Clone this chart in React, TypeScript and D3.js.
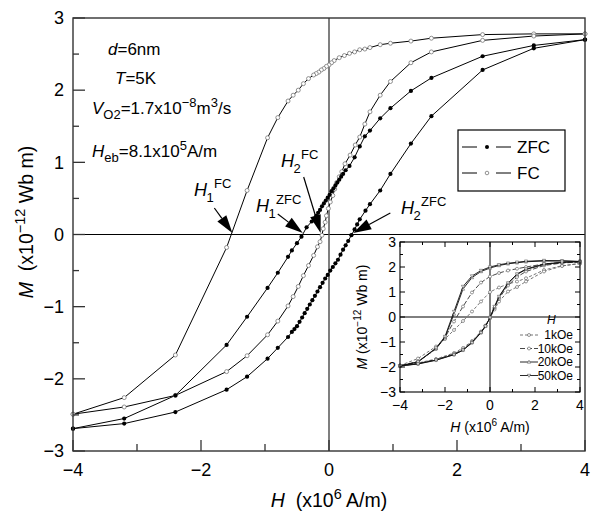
import React from "react";
import * as d3 from "d3";

// ---------- Main hysteresis loops (H in 10^6 A/m, M in 10^-12 Wb m) ----------
// ZFC, field sweeping down (+4 -> -4)
const zfcDescH = [4.0, 3.2, 2.4, 1.6, 1.28, 0.96, 0.8, 0.64, 0.56, 0.48, 0.4, 0.32, 0.26, 0.22, 0.19, 0.16, 0.13, 0.1, 0.07, 0.04, 0.01, -0.02, -0.05, -0.08, -0.11, -0.14, -0.17, -0.2, -0.22, -0.27, -0.35, -0.43, -0.5, -0.58, -0.64, -0.8, -0.96, -1.28, -1.6, -2.4, -3.2, -4.0];
const zfcDescM = [2.7, 2.62, 2.47, 2.17, 1.99, 1.75, 1.61, 1.44, 1.36, 1.22, 1.07, 0.95, 0.89, 0.84, 0.8, 0.76, 0.72, 0.68, 0.64, 0.6, 0.55, 0.51, 0.47, 0.43, 0.39, 0.34, 0.3, 0.26, 0.22, 0.18, 0.1, -0.03, -0.12, -0.22, -0.31, -0.53, -0.74, -1.14, -1.53, -2.23, -2.55, -2.69];
// ZFC, field sweeping up (-4 -> +4)
const zfcAscH = [-4.0, -3.2, -2.4, -1.6, -1.28, -0.96, -0.8, -0.64, -0.58, -0.54, -0.5, -0.46, -0.42, -0.38, -0.34, -0.3, -0.26, -0.22, -0.18, -0.14, -0.1, -0.06, -0.02, 0.02, 0.06, 0.1, 0.14, 0.18, 0.22, 0.26, 0.3, 0.35, 0.4, 0.44, 0.48, 0.57, 0.64, 0.8, 0.96, 1.28, 1.6, 2.4, 3.2, 4.0];
const zfcAscM = [-2.69, -2.62, -2.46, -2.15, -1.97, -1.72, -1.57, -1.42, -1.35, -1.31, -1.27, -1.21, -1.15, -1.09, -1.03, -0.97, -0.91, -0.85, -0.79, -0.73, -0.67, -0.61, -0.56, -0.5, -0.45, -0.4, -0.35, -0.28, -0.21, -0.15, -0.09, -0.01, 0.07, 0.14, 0.21, 0.33, 0.42, 0.61, 0.84, 1.26, 1.64, 2.28, 2.58, 2.7];
// FC, field sweeping down
const fcDescH = [4.0, 3.2, 2.4, 1.6, 1.28, 0.96, 0.8, 0.64, 0.56, 0.48, 0.4, 0.32, 0.24, 0.16, 0.08, 0.04, 0.0, -0.04, -0.08, -0.12, -0.16, -0.2, -0.24, -0.32, -0.4, -0.48, -0.56, -0.64, -0.8, -0.96, -1.28, -1.6, -2.4, -3.2, -4.0];
const fcDescM = [2.78, 2.78, 2.77, 2.72, 2.68, 2.65, 2.63, 2.59, 2.57, 2.56, 2.53, 2.51, 2.48, 2.45, 2.41, 2.38, 2.35, 2.33, 2.3, 2.28, 2.25, 2.23, 2.21, 2.16, 2.09, 2.0, 1.93, 1.85, 1.62, 1.34, 0.61, -0.18, -1.67, -2.26, -2.49];
// FC, field sweeping up
const fcAscH = [-4.0, -3.2, -2.4, -1.6, -1.28, -0.96, -0.8, -0.64, -0.56, -0.48, -0.4, -0.32, -0.24, -0.18, -0.14, -0.11, -0.09, -0.06, -0.04, -0.01, 0.02, 0.06, 0.09, 0.12, 0.16, 0.2, 0.25, 0.33, 0.41, 0.48, 0.56, 0.64, 0.8, 0.96, 1.28, 1.6, 2.4, 3.2, 4.0];
const fcAscM = [-2.49, -2.39, -2.23, -1.9, -1.68, -1.39, -1.2, -0.99, -0.86, -0.72, -0.57, -0.43, -0.29, -0.17, -0.1, -0.01, 0.08, 0.17, 0.26, 0.36, 0.45, 0.54, 0.63, 0.72, 0.8, 0.87, 0.98, 1.1, 1.24, 1.35, 1.53, 1.7, 1.93, 2.12, 2.38, 2.53, 2.69, 2.75, 2.78];

// Coercive fields marked by arrows
const crossLabels = ["1", "1", "2", "2"];
const crossTags = ["FC", "ZFC", "FC", "ZFC"];
const crossH = [-1.51, -0.41, -0.13, 0.38];

// ---------- Inset: loops for different cooling fields ----------
const insetFields = ["1kOe", "10kOe", "20kOe", "50kOe"];
const insetDescH = [4.0, 3.2, 2.4, 1.6, 1.2, 0.8, 0.4, 0.0, -0.4, -0.8, -1.2, -1.6, -2.0, -2.4, -3.2, -4.0];
const inset1kDesc = [2.14, 2.05, 1.88, 1.55, 1.42, 1.32, 1.18, 1.0, 0.62, 0.22, -0.16, -0.52, -0.88, -1.18, -1.66, -1.94];
const inset10kDesc = [2.2, 2.18, 2.12, 2.0, 1.93, 1.86, 1.76, 1.62, 1.38, 0.98, 0.42, -0.18, -0.82, -1.28, -1.78, -1.95];
const inset20kDesc = [2.22, 2.24, 2.24, 2.21, 2.17, 2.13, 2.06, 1.96, 1.82, 1.58, 1.12, 0.12, -0.82, -1.26, -1.8, -1.96];
const inset50kDesc = [2.22, 2.25, 2.26, 2.23, 2.19, 2.15, 2.09, 2.0, 1.86, 1.64, 1.22, 0.22, -0.78, -1.24, -1.79, -1.96];
const insetAscH = [-4.0, -3.2, -2.4, -1.6, -1.2, -0.8, -0.4, -0.2, 0.0, 0.2, 0.4, 0.8, 1.2, 1.6, 2.4, 3.2, 4.0];
const inset1kAsc = [-1.94, -1.84, -1.68, -1.44, -1.24, -0.96, -0.58, -0.34, -0.04, 0.3, 0.62, 1.02, 1.2, 1.42, 1.82, 2.04, 2.14];
const inset10kAsc = [-1.95, -1.86, -1.7, -1.48, -1.3, -1.0, -0.6, -0.36, -0.04, 0.36, 0.74, 1.26, 1.6, 1.82, 2.06, 2.16, 2.2];
const inset20kAsc = [-1.96, -1.87, -1.72, -1.5, -1.32, -1.02, -0.62, -0.36, -0.03, 0.4, 0.8, 1.34, 1.7, 1.9, 2.1, 2.18, 2.22];
const inset50kAsc = [-1.96, -1.88, -1.73, -1.51, -1.33, -1.03, -0.63, -0.37, -0.02, 0.42, 0.82, 1.36, 1.72, 1.92, 2.12, 2.19, 2.22];

// Axis ticks
const mainXTicks = [-4, -3, -2, -1, 0, 1, 2, 3, 4];
const mainYTicks = [-3, -2.5, -2, -1.5, -1, -0.5, 0, 0.5, 1, 1.5, 2, 2.5, 3];
const insetXTicks = [-4, -3, -2, -1, 0, 1, 2, 3, 4];
const insetYTicks = [-3, -2.5, -2, -1.5, -1, -0.5, 0, 0.5, 1, 1.5, 2, 2.5, 3];

const FONT = "'Liberation Sans', Arial, Helvetica, sans-serif";
const fmt = (v: number) => (v < 0 ? "\u2212" + Math.abs(v) : String(v));

type Pt = [number, number];
const zip = (h: number[], m: number[]): Pt[] => h.map((v, i) => [v, m[i]]);

export default function App() {
  const W = 594;
  const H = 518;

  const x = d3.scaleLinear().domain([-4, 4]).range([73, 585]);
  const y = d3.scaleLinear().domain([-3, 3]).range([451, 18]);
  const xi = d3.scaleLinear().domain([-4, 4]).range([400, 580]);
  const yi = d3.scaleLinear().domain([-3, 3]).range([392, 242]);

  const line = d3.line<Pt>().x((d) => x(d[0])).y((d) => y(d[1]));
  const lineI = d3.line<Pt>().x((d) => xi(d[0])).y((d) => yi(d[1]));

  const zfc = [zip(zfcDescH, zfcDescM), zip(zfcAscH, zfcAscM)];
  const fc = [zip(fcDescH, fcDescM), zip(fcAscH, fcAscM)];

  const insetDesc = [inset1kDesc, inset10kDesc, inset20kDesc, inset50kDesc];
  const insetAsc = [inset1kAsc, inset10kAsc, inset20kAsc, inset50kAsc];
  const insetDash = ["3,2", "5,2", "none", "none"];
  const insetColor = ["#666", "#333", "#111", "#111"];
  const insetMarker = ["circle", "circle", "up", "down"];

  const marker = (kind: string, cx: number, cy: number, key: string, s = 1.6) => {
    if (kind === "circle")
      return <circle key={key} cx={cx} cy={cy} r={s} fill="white" stroke="#555" strokeWidth={0.6} />;
    const t = kind === "up" ? 1 : -1;
    const p = `${cx},${cy - t * s * 1.2} ${cx - s * 1.1},${cy + t * s * 0.8} ${cx + s * 1.1},${cy + t * s * 0.8}`;
    return <polygon key={key} points={p} fill="white" stroke="#555" strokeWidth={0.6} />;
  };

  // Arrow annotations: tail offsets (px) relative to the tip
  const arrowTail: Pt[] = [[-18, -25], [-25, -19], [-17, -56], [37, -20]];
  const labelPos: Pt[] = [[194, 196], [256, 212], [281, 167], [401, 214]];

  const arrow = (tipX: number, tipY: number, dx: number, dy: number, key: string) => {
    const len = Math.hypot(dx, dy);
    const ux = dx / len, uy = dy / len;
    const head = 18, hw = 5.5;
    const bx = tipX + ux * head, by = tipY + uy * head;
    const px = -uy, py = ux;
    return (
      <g key={key}>
        <line x1={tipX + dx} y1={tipY + dy} x2={bx} y2={by} stroke="black" strokeWidth={1.2} />
        <polygon
          points={`${tipX},${tipY} ${bx + px * hw},${by + py * hw} ${bx - px * hw},${by - py * hw}`}
          fill="black"
        />
      </g>
    );
  };

  return (
    <svg width={W} height={H} style={{ position: "absolute", left: 0, top: 0, background: "white" }} fontFamily={FONT}>
      <rect x={0} y={0} width={W} height={H} fill="white" />

      {/* zero lines */}
      <line x1={x(-4)} x2={x(4)} y1={y(0)} y2={y(0)} stroke="black" strokeWidth={1} />
      <line x1={x(0)} x2={x(0)} y1={y(3)} y2={y(-3)} stroke="#555" strokeWidth={1.5} />

      {/* curves */}
      {zfc.map((d, i) => (
        <path key={"zl" + i} d={line(d) || ""} fill="none" stroke="black" strokeWidth={1} />
      ))}
      {fc.map((d, i) => (
        <path key={"fl" + i} d={line(d) || ""} fill="none" stroke="black" strokeWidth={1} />
      ))}
      {fc.map((d, i) =>
        d.map((p, j) => (
          <circle key={`fm${i}-${j}`} cx={x(p[0])} cy={y(p[1])} r={2} fill="white" stroke="#777" strokeWidth={0.8} />
        ))
      )}
      {zfc.map((d, i) =>
        d.map((p, j) => <circle key={`zm${i}-${j}`} cx={x(p[0])} cy={y(p[1])} r={2.1} fill="black" />)
      )}

      {/* frame */}
      <rect x={x(-4)} y={y(3)} width={x(4) - x(-4)} height={y(-3) - y(3)} fill="none" stroke="#333" strokeWidth={1.4} />

      {/* ticks */}
      {mainYTicks.map((v) => {
        const major = Number.isInteger(v);
        return (
          <g key={"yt" + v}>
            <line x1={x(-4)} x2={x(-4) + (major ? 12 : 6)} y1={y(v)} y2={y(v)} stroke="#333" strokeWidth={1.3} />
            {major && (
              <text x={64} y={y(v)} dy="0.35em" textAnchor="end" fontSize={18}>
                {fmt(v)}
              </text>
            )}
          </g>
        );
      })}
      {mainXTicks.map((v) => {
        const major = v % 2 === 0;
        return (
          <g key={"xt" + v}>
            <line x1={x(v)} x2={x(v)} y1={y(-3)} y2={y(-3) - (major ? 11 : 7)} stroke="#333" strokeWidth={1.3} />
            {major && (
              <text x={x(v)} y={476} textAnchor="middle" fontSize={18}>
                {fmt(v)}
              </text>
            )}
          </g>
        );
      })}

      {/* axis titles */}
      <text x={329} y={507} textAnchor="middle" fontSize={19.5}>
        <tspan fontStyle="italic">H</tspan>
        <tspan>{"\u00a0\u00a0(x10"}</tspan>
        <tspan dy={-8} fontSize={14.5}>6</tspan>
        <tspan dy={8}>{" A/m)"}</tspan>
      </text>
      <text transform="translate(33,222) rotate(-90)" textAnchor="middle" fontSize={19.5}>
        <tspan fontStyle="italic">M</tspan>
        <tspan>{"\u00a0\u00a0(x10"}</tspan>
        <tspan dy={-8} fontSize={14.5}>{"\u221212"}</tspan>
        <tspan dy={8}>{" Wb m)"}</tspan>
      </text>

      {/* sample parameters */}
      <g fontSize={17}>
        <text x={108} y={55}>
          <tspan fontStyle="italic">d</tspan>=6nm
        </text>
        <text x={115} y={84}>
          <tspan fontStyle="italic">T</tspan>=5K
        </text>
        <text x={92} y={114}>
          <tspan fontStyle="italic">V</tspan>
          <tspan dy={5} fontSize={13}>O2</tspan>
          <tspan dy={-5}>=1.7x10</tspan>
          <tspan dy={-7} fontSize={13}>{"\u22128"}</tspan>
          <tspan dy={7}>m</tspan>
          <tspan dy={-7} fontSize={13}>3</tspan>
          <tspan dy={7}>/s</tspan>
        </text>
        <text x={92} y={157}>
          <tspan fontStyle="italic">H</tspan>
          <tspan dy={5} fontSize={13}>eb</tspan>
          <tspan dy={-5}>=8.1x10</tspan>
          <tspan dy={-7} fontSize={13}>5</tspan>
          <tspan dy={7}>A/m</tspan>
        </text>
      </g>

      {/* coercive field arrows and labels */}
      {crossH.map((h, i) => arrow(x(h), y(0) - 1.5, arrowTail[i][0], arrowTail[i][1], "ar" + i))}
      {crossH.map((_, i) => {
        const [lx, ly] = labelPos[i];
        return (
          <g key={"lb" + i}>
            <text x={lx} y={ly} fontSize={18} fontStyle="italic">H</text>
            <text x={lx + 12.5} y={ly + 6} fontSize={13}>{crossLabels[i]}</text>
            <text x={lx + 20} y={ly - 8} fontSize={13}>{crossTags[i]}</text>
          </g>
        );
      })}

      {/* legend */}
      <g>
        <rect x={458} y={130} width={107} height={61} fill="white" stroke="black" strokeWidth={1.2} />
        <line x1={462} x2={477} y1={147} y2={147} stroke="black" />
        <line x1={496} x2={511} y1={147} y2={147} stroke="black" />
        <circle cx={487} cy={147} r={2} fill="black" />
        <text x={517} y={153} fontSize={17}>ZFC</text>
        <line x1={462} x2={477} y1={173} y2={173} stroke="black" />
        <line x1={496} x2={511} y1={173} y2={173} stroke="black" />
        <circle cx={487} cy={173} r={1.8} fill="white" stroke="#777" strokeWidth={0.8} />
        <text x={517} y={179} fontSize={17}>FC</text>
      </g>

      {/* ---------- inset ---------- */}
      <g>
        <line x1={xi(-4)} x2={xi(4)} y1={yi(0)} y2={yi(0)} stroke="black" strokeWidth={1} />
        <line x1={xi(0)} x2={xi(0)} y1={yi(3)} y2={yi(-3)} stroke="black" strokeWidth={1} />
        {insetFields.map((f, k) => (
          <g key={"ic" + f}>
            {[zip(insetDescH, insetDesc[k]), zip(insetAscH, insetAsc[k])].map((d, j) => (
              <g key={"br" + j}>
                <path
                  d={lineI(d) || ""}
                  fill="none"
                  stroke={insetColor[k]}
                  strokeWidth={0.9}
                  strokeDasharray={insetDash[k]}
                />
                {d.map((p, n) => marker(insetMarker[k], xi(p[0]), yi(p[1]), `im${k}-${j}-${n}`, 1.5))}
              </g>
            ))}
          </g>
        ))}
        <rect x={xi(-4)} y={yi(3)} width={xi(4) - xi(-4)} height={yi(-3) - yi(3)} fill="none" stroke="black" strokeWidth={1.1} />
        {insetYTicks.map((v) => {
          const major = Number.isInteger(v);
          const len = major ? 5 : 3;
          return (
            <g key={"iyt" + v}>
              <line x1={xi(-4)} x2={xi(-4) + len} y1={yi(v)} y2={yi(v)} stroke="black" />
              <line x1={xi(4)} x2={xi(4) - len} y1={yi(v)} y2={yi(v)} stroke="black" />
              {major && (
                <text x={396} y={yi(v)} dy="0.35em" textAnchor="end" fontSize={14}>
                  {fmt(v)}
                </text>
              )}
            </g>
          );
        })}
        {insetXTicks.map((v) => {
          const major = v % 2 === 0;
          const len = major ? 5 : 3;
          return (
            <g key={"ixt" + v}>
              <line x1={xi(v)} x2={xi(v)} y1={yi(-3)} y2={yi(-3) - len} stroke="black" />
              <line x1={xi(v)} x2={xi(v)} y1={yi(3)} y2={yi(3) + len} stroke="black" />
              {major && (
                <text x={xi(v)} y={410} textAnchor="middle" fontSize={14}>
                  {fmt(v)}
                </text>
              )}
            </g>
          );
        })}
        <text x={490} y={432} textAnchor="middle" fontSize={14}>
          <tspan fontStyle="italic">H</tspan>
          <tspan>{" (x10"}</tspan>
          <tspan dy={-6} fontSize={10}>6</tspan>
          <tspan dy={6}>{" A/m)"}</tspan>
        </text>
        <text transform="translate(367,317) rotate(-90)" textAnchor="middle" fontSize={14}>
          <tspan fontStyle="italic">M</tspan>
          <tspan>{" (x10"}</tspan>
          <tspan dy={-6} fontSize={10}>{"\u221212"}</tspan>
          <tspan dy={6}>{" Wb m)"}</tspan>
        </text>

        {/* inset legend */}
        <text x={547} y={324} fontSize={12} fontStyle="italic">H</text>
        {insetFields.map((f, k) => {
          const ly = 335 + k * 13.5;
          return (
            <g key={"il" + f}>
              <line x1={520} x2={538} y1={ly} y2={ly} stroke={insetColor[k]} strokeWidth={0.9} strokeDasharray={insetDash[k]} />
              {marker(insetMarker[k], 529, ly, "ilm" + k, 1.5)}
              <text x={573} y={ly + 4.3} textAnchor="end" fontSize={12}>
                {f}
              </text>
            </g>
          );
        })}
      </g>
    </svg>
  );
}
